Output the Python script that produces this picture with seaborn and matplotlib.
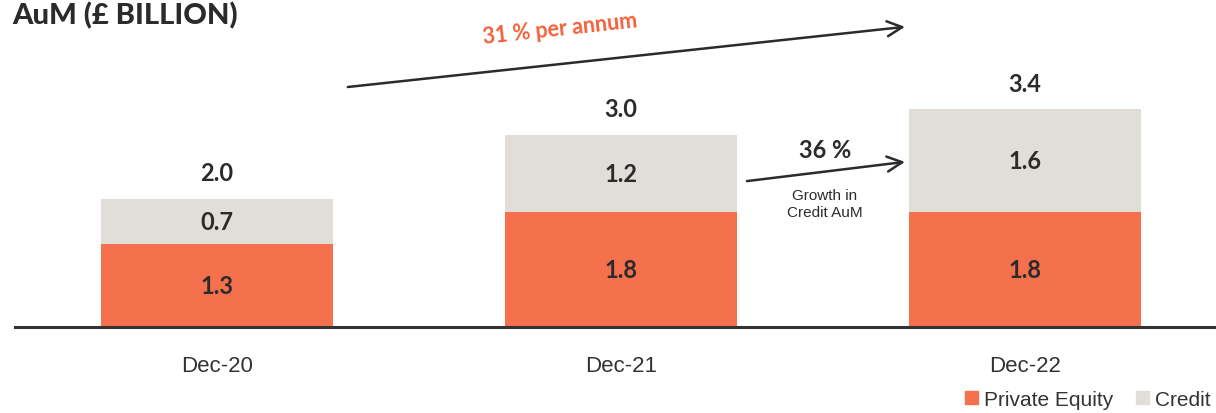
import matplotlib
matplotlib.use("Agg")
import matplotlib.pyplot as plt
import seaborn as sns
import pandas as pd
from matplotlib.patches import Patch

# AuM by period, £ billion
periods = ["Dec-20", "Dec-21", "Dec-22"]
private_equity = [1.3, 1.8, 1.8]
credit = [0.7, 1.2, 1.6]
totals = [2.0, 3.0, 3.4]

PE_COLOR = "#F5704C"
CREDIT_COLOR = "#E1DDD8"
TEXT_COLOR = "#2B2B2B"
ACCENT = "#F2613C"

sns.set_theme(style="white")
plt.rcParams["font.family"] = ["Liberation Sans", "DejaVu Sans"]

df = pd.DataFrame({"period": periods, "pe": private_equity,
                   "credit": credit, "total": totals})

fig = plt.figure(figsize=(12.16, 4.14), dpi=100)
ax = fig.add_axes([0.0123, 0.2077, 0.9877, 0.7923])

bar_w = 0.574
# total height in the credit colour, private equity drawn over its lower part
sns.barplot(data=df, x="period", y="total", color=CREDIT_COLOR, width=bar_w,
            saturation=1, ax=ax, linewidth=0)
sns.barplot(data=df, x="period", y="pe", color=PE_COLOR, width=bar_w,
            saturation=1, ax=ax, linewidth=0)

ax.set_xlim(-0.5, 2.473)
ax.set_ylim(0, 5.125)
ax.set_xlabel("")
ax.set_ylabel("")
ax.set_yticks([])
for s in ["top", "right", "left"]:
    ax.spines[s].set_visible(False)
ax.spines["bottom"].set_color("#333333")
ax.spines["bottom"].set_linewidth(2.2)
ax.tick_params(axis="x", length=0, pad=20, labelsize=16, labelcolor="#333333")

bold = dict(family=["Lato", "DejaVu Sans"], weight="bold", color=TEXT_COLOR,
            fontsize=17, ha="center", va="center")

for i, (pe, cr, tot) in enumerate(zip(private_equity, credit, totals)):
    ax.text(i, pe / 2, f"{pe:.1f}", **bold)
    ax.text(i, pe + cr / 2, f"{cr:.1f}", **bold)
    ax.annotate(f"{tot:.1f}", xy=(i, tot), xytext=(0, 19),
                textcoords="offset points", **bold)

# compound annual growth arrow
ax.annotate("", xy=(1.703, 4.69), xytext=(0.324, 3.75),
            arrowprops=dict(arrowstyle="->,head_length=0.9,head_width=0.45",
                            color=TEXT_COLOR, lw=1.8, shrinkA=0, shrinkB=0))
ax.text(0.85, 4.67, "31 % per annum", rotation=6.2, rotation_mode="anchor",
        family=["Lato", "DejaVu Sans"], weight="bold", color=ACCENT,
        fontsize=15.5, ha="center", va="center")

# credit growth arrow
ax.annotate("", xy=(1.703, 2.58), xytext=(1.312, 2.28),
            arrowprops=dict(arrowstyle="->,head_length=0.9,head_width=0.45",
                            color=TEXT_COLOR, lw=1.8, shrinkA=0, shrinkB=0))
ax.text(1.505, 2.78, "36 %", **bold)
ax.text(1.505, 1.93, "Growth in\nCredit AuM", ha="center", va="center",
        fontsize=11, color=TEXT_COLOR, linespacing=1.2)

fig.text(0.01, 0.963, "AuM (£ BILLION)", family=["Lato", "DejaVu Sans"],
         weight="black", fontsize=21, color=TEXT_COLOR, ha="left", va="center")

handles = [Patch(color=PE_COLOR, label="Private Equity"),
           Patch(color=CREDIT_COLOR, label="Credit")]
fig.legend(handles=handles, loc="lower right", bbox_to_anchor=(1.011, -0.035),
           ncol=2, frameon=False, fontsize=15, handlelength=0.6, handleheight=0.6,
           handletextpad=0.3, columnspacing=1.1, labelcolor="#333333")

fig.savefig("out.png", dpi=100)
